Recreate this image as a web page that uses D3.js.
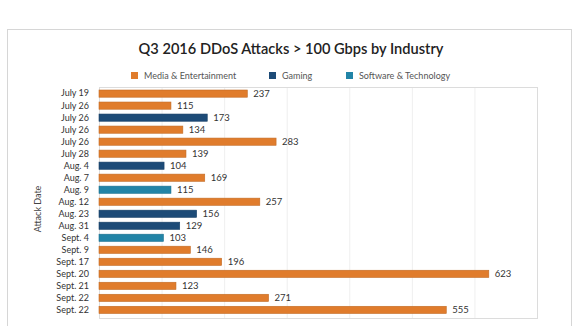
<!DOCTYPE html>
<html><head><meta charset="utf-8">
<script src="https://cdn.jsdelivr.net/npm/d3@7"></script>
<style>body{margin:0;background:#fff;} svg{display:block;}</style>
</head><body>
<svg id="c" width="580" height="326"></svg>
<script>
const dates = ["July 19","July 26","July 26","July 26","July 26","July 28","Aug. 4","Aug. 7","Aug. 9","Aug. 12","Aug. 23","Aug. 31","Sept. 4","Sept. 9","Sept. 17","Sept. 20","Sept. 21","Sept. 22","Sept. 22"];
const values = [237,115,173,134,283,139,104,169,115,257,156,129,103,146,196,623,123,271,555];
const industries = ["Media","Media","Gaming","Media","Media","Media","Gaming","Media","Software","Media","Gaming","Gaming","Software","Media","Media","Media","Media","Media","Media"];
const seriesNames = ["Media & Entertainment","Gaming","Software & Technology"];
const seriesKeys = ["Media","Gaming","Software"];
const seriesColors = ["#E07C2C","#1D4B77","#2284A7"];
const xTicks = [0,100,200,300,400,500,600,700];

const svg = d3.select("#c");
const font = "Lato, 'Open Sans', sans-serif";

// outer frame
svg.append("rect").attr("x",7.5).attr("y",29.5).attr("width",564).attr("height",300)
  .attr("fill","none").attr("stroke","#d6d6d6").attr("stroke-width",1);

const m = {left:99, right:537, top:87, bottom:318};
const x = d3.scaleLinear().domain([0,700]).range([m.left,m.right]);
const rows = d3.range(dates.length);
const y = d3.scaleBand().domain(rows).range([m.top,316.5]).paddingInner(0.4).paddingOuter(0.25);
const color = d3.scaleOrdinal().domain(seriesKeys).range(seriesColors);

// gridlines
svg.append("g").selectAll("line").data(xTicks.slice(1)).join("line")
  .attr("x1",d=>x(d)+0.5).attr("x2",d=>x(d)+0.5).attr("y1",m.top).attr("y2",m.bottom)
  .attr("stroke","#efefef");
// plot box
svg.append("rect").attr("x",m.left+0.5).attr("y",m.top+0.5).attr("width",m.right-m.left).attr("height",m.bottom-m.top)
  .attr("fill","none").attr("stroke","#dcdcdc");

// bars
svg.append("g").selectAll("rect").data(rows).join("rect")
  .attr("x",x(0)).attr("y",i=>y(i)).attr("width",i=>x(values[i])-x(0)).attr("height",y.bandwidth())
  .attr("fill",i=>color(industries[i]))
  .attr("stroke",i=>d3.color(color(industries[i])).darker(0.4)).attr("stroke-width",0.6);

// value labels
svg.append("g").selectAll("text").data(rows).join("text")
  .attr("x",i=>x(values[i])+6).attr("y",i=>y(i)+y.bandwidth()/2).attr("dy","0.35em")
  .attr("font-family",font).attr("font-size",9.5).attr("fill","#333")
  .text(i=>values[i]);

// y axis labels
const yAxis = d3.axisLeft(y).tickSize(0).tickPadding(10).tickFormat(i=>dates[i]);
const ga = svg.append("g").attr("transform",`translate(${m.left},0)`).call(yAxis);
ga.select(".domain").remove();
ga.selectAll("text").attr("font-family",font).attr("font-size",9).attr("fill","#333");

// axis title
svg.append("text").attr("transform","translate(41,209) rotate(-90)")
  .attr("text-anchor","middle").attr("font-family",font).attr("font-size",9).attr("fill","#444")
  .text("Attack Date");

// title
svg.append("text").attr("x",291).attr("y",54).attr("text-anchor","middle")
  .attr("font-family",font).attr("font-size",14.6).attr("font-weight",600).attr("fill","#222")
  .text("Q3 2016 DDoS Attacks > 100 Gbps by Industry");

// legend
const legX = [131,269,346];
const lg = svg.append("g").selectAll("g").data(seriesNames).join("g")
  .attr("transform",(d,i)=>`translate(${legX[i]},72)`);
lg.append("rect").attr("width",7).attr("height",7).attr("fill",(d,i)=>seriesColors[i]);
lg.append("text").attr("x",13).attr("y",3.5).attr("dy","0.35em")
  .attr("font-family",font).attr("font-size",9).attr("fill","#555").text(d=>d);
</script>
</body></html>
